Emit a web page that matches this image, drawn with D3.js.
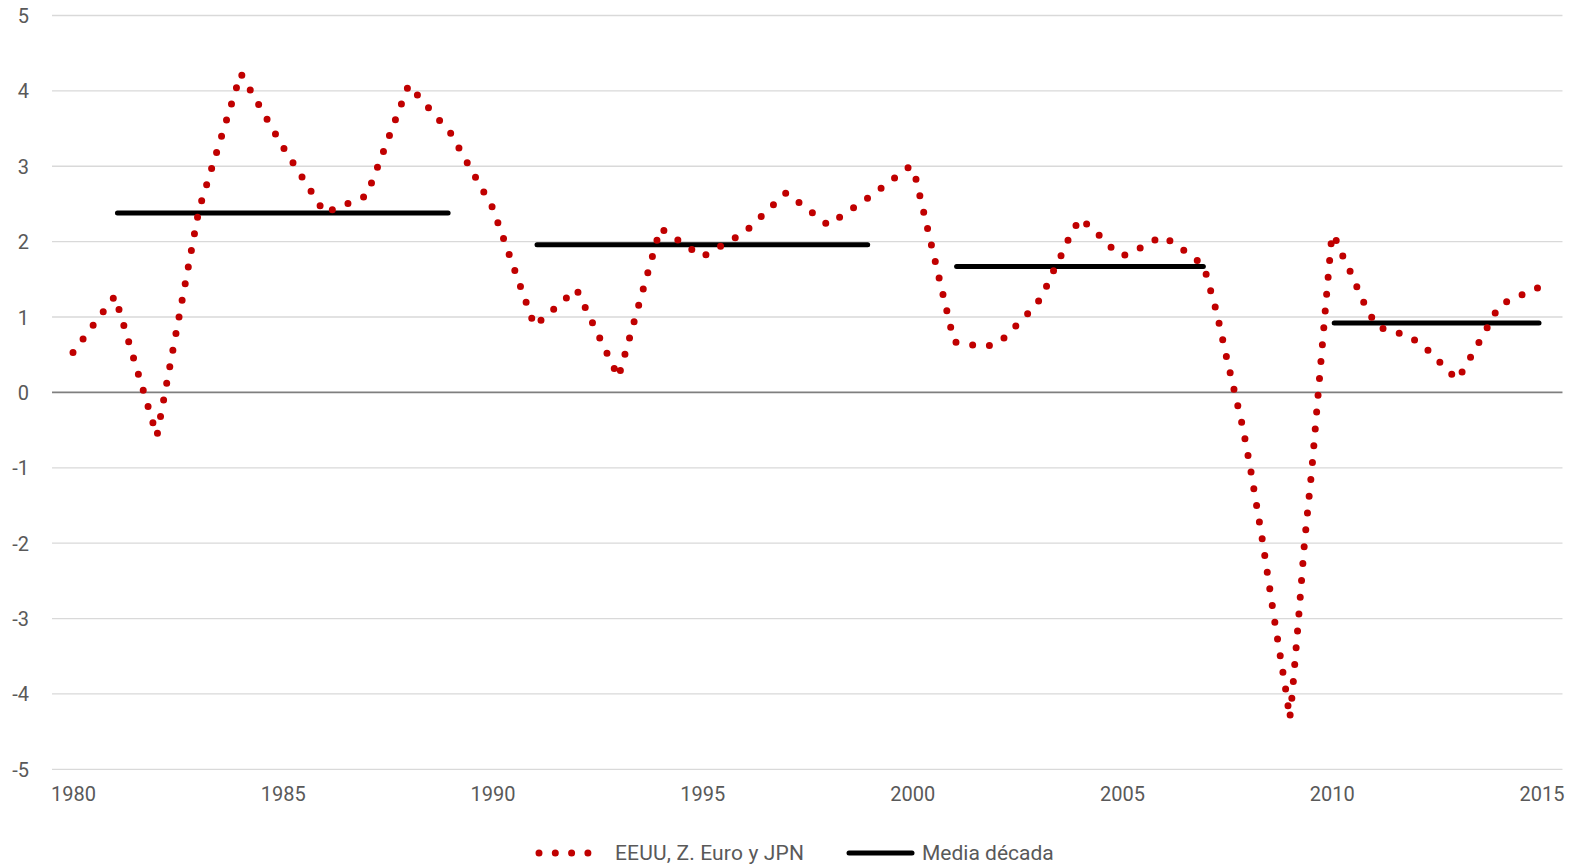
<!DOCTYPE html>
<html>
<head>
<meta charset="utf-8">
<script src="https://cdn.jsdelivr.net/npm/d3@7"></script>
<style>
  html, body { margin: 0; padding: 0; background: #fff; }
  svg { display: block; }
  text { font-family: Roboto, "Noto Sans", sans-serif; fill: #595959; }
</style>
</head>
<body>
<svg></svg>
<script>
// series (decimal year, value)
const years = [1980, 1981, 1982, 1983, 1984, 1985, 1986, 1987, 1988, 1989,
  1990, 1991, 1992, 1993, 1994, 1995, 1996, 1997, 1998, 1999,
  1999.95, 2000.07, 2001, 2001.4, 2001.75, 2002, 2002.25, 2002.5, 2002.96, 2003.15,
  2003.32, 2003.5, 2003.66, 2003.85, 2004, 2004.34, 2004.61, 2004.91, 2005.05, 2005.23,
  2005.58, 2005.94, 2006.26, 2006.58, 2006.87, 2007, 2007.25, 2007.5, 2007.7, 2007.88,
  2008.06, 2008.36, 2008.63, 2008.92, 2009, 2009.06, 2009.21, 2009.35, 2009.53, 2009.68,
  2009.78, 2009.88, 2009.99, 2010.05, 2010.19, 2010.38, 2010.7, 2010.86, 2011.1, 2011.44,
  2011.82, 2012.16, 2012.43, 2012.73, 2013, 2013.21, 2013.61, 2014, 2014.36, 2014.72, 2014.92];
const values = [0.53, 1.28, -0.58, 2.42, 4.23, 3.26, 2.38, 2.61, 4.08, 3.44,
  2.45, 0.88, 1.37, 0.2, 2.18, 1.8, 2.12, 2.65, 2.22, 2.6,
  3.0, 2.88, 0.67, 0.63, 0.61, 0.64, 0.75, 0.9, 1.16, 1.34,
  1.56, 1.75, 1.96, 2.16, 2.31, 2.15, 2.0, 1.83, 1.82, 1.85,
  1.96, 2.07, 1.98, 1.84, 1.72, 1.58, 1.08, 0.45, -0.03, -0.46,
  -1.0, -2.0, -3.0, -4.0, -4.33, -4.0, -3.0, -2.0, -1.0, 0.0,
  0.65, 1.31, 2.0, 2.1, 1.89, 1.68, 1.27, 1.08, 0.87, 0.81,
  0.75, 0.63, 0.49, 0.31, 0.17, 0.37, 0.76, 1.16, 1.25, 1.34, 1.39];

// decade means
const meanStart = [1981, 1991, 2001, 2010];
const meanEnd = [1989, 1999, 2007, 2015];
const meanValue = [2.38, 1.96, 1.67, 0.92];

const yTicks = [-5, -4, -3, -2, -1, 0, 1, 2, 3, 4, 5];
const xTicks = [1980, 1985, 1990, 1995, 2000, 2005, 2010, 2015];
const seriesNames = ["EEUU, Z. Euro y JPN", "Media década"];

const width = 1581;
const height = 867;

const x = d3.scaleLinear().domain([1980, 2015]).range([73, 1541.5]);
const y = d3.scaleLinear().domain([-5, 5]).range([769.3, 15.5]);

const svg = d3.select("svg")
    .attr("width", width)
    .attr("height", height)
    .attr("viewBox", [0, 0, width, height]);

// gridlines
svg.append("g")
  .selectAll("line")
  .data(yTicks)
  .join("line")
    .attr("x1", x(1979.5))
    .attr("x2", x(2015.5))
    .attr("y1", d => y(d))
    .attr("y2", d => y(d))
    .attr("stroke", d => d === 0 ? "#7f7f7f" : "#d9d9d9")
    .attr("stroke-width", d => d === 0 ? 1.6 : 1.3);

// y labels (plain hyphen for negatives, like the original)
const yAxis = d3.axisLeft(y).tickValues(yTicks).tickSize(0).tickPadding(0).tickFormat(d => String(d));
svg.append("g")
    .attr("transform", "translate(29,0)")
    .call(yAxis)
    .call(g => g.select(".domain").remove())
    .call(g => g.selectAll("text")
        .attr("font-family", "Roboto, sans-serif")
        .attr("font-size", 20)
        .attr("fill", "#595959")
        .attr("dy", "0.35em"));

// x labels
const xAxis = d3.axisBottom(x).tickValues(xTicks).tickSize(0).tickPadding(0).tickFormat(d => String(d));
svg.append("g")
    .attr("transform", "translate(0,787)")
    .call(xAxis)
    .call(g => g.select(".domain").remove())
    .call(g => g.selectAll("text")
        .attr("font-family", "Roboto, sans-serif")
        .attr("font-size", 20)
        .attr("fill", "#595959")
        .attr("dy", "0.71em"));

const data = years.map((t, i) => ({ t, v: values[i] }));

// decade means
svg.append("g")
  .selectAll("line")
  .data(meanValue)
  .join("line")
    .attr("x1", (d, i) => x(meanStart[i]) + 2.5)
    .attr("x2", (d, i) => x(meanEnd[i]) - 2.5)
    .attr("y1", d => y(d))
    .attr("y2", d => y(d))
    .attr("stroke", "#000")
    .attr("stroke-width", 5)
    .attr("stroke-linecap", "round");

// dotted series
const line = d3.line()
    .x(d => x(d.t))
    .y(d => y(d.v));

svg.append("path")
    .datum(data)
    .attr("fill", "none")
    .attr("stroke", "#c00000")
    .attr("stroke-width", 7)
    .attr("stroke-linecap", "round")
    .attr("stroke-linejoin", "round")
    .attr("stroke-dasharray", "0 16.9")
    .attr("d", line);

// legend
const legend = svg.append("g").attr("transform", "translate(0,853)");
legend.append("line")
    .attr("x1", 539).attr("x2", 589)
    .attr("stroke", "#c00000")
    .attr("stroke-width", 7)
    .attr("stroke-linecap", "round")
    .attr("stroke-dasharray", "0 16.3");
legend.append("text")
    .attr("x", 615)
    .attr("dy", "0.35em")
    .attr("font-size", 21)
    .attr("textLength", 189)
    .text(seriesNames[0]);
legend.append("line")
    .attr("x1", 849).attr("x2", 912)
    .attr("stroke", "#000")
    .attr("stroke-width", 5)
    .attr("stroke-linecap", "round");
legend.append("text")
    .attr("x", 922)
    .attr("dy", "0.35em")
    .attr("font-size", 21)
    .text(seriesNames[1]);
</script>
</body>
</html>
